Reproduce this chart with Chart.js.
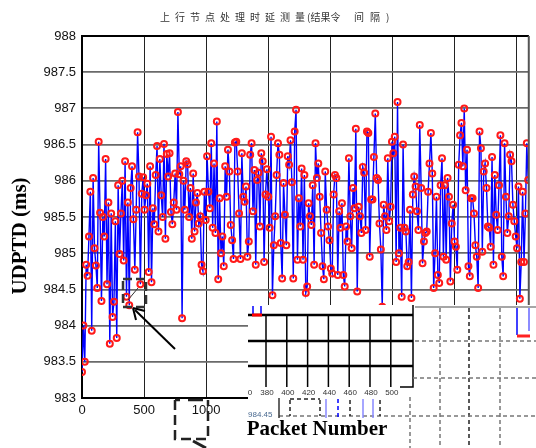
<!DOCTYPE html>
<html>
<head>
<meta charset="utf-8">
<script src="https://cdn.jsdelivr.net/npm/chart.js@4.4.0/dist/chart.umd.min.js"></script>
<style>
  html, body { margin: 0; padding: 0; background: #fff; }
  #wrap { width: 536px; height: 448px; }
</style>
</head>
<body>
<div id="wrap"><canvas id="udptdChart" width="536" height="448"></canvas></div>
<script>
// UDPTD samples, in packet order
const udptdA = [
  983.36, 984.0, 983.5, 984.84, 984.69, 985.23, 985.85, 983.93,
  986.04, 985.07, 984.83, 984.52, 986.54,
  985.56, 984.34, 985.5, 985.23, 986.3, 984.57, 985.7,
  983.75, 985.55, 984.12, 984.33, 985.44, 983.83, 985.94,
  984.99, 985.55, 986.0, 984.9, 986.27, 984.4, 985.7,
  984.28, 985.9, 986.2, 985.47, 984.77, 985.6, 986.67,
  986.06, 984.57, 985.82, 986.05, 985.6, 985.8, 985.96,
  984.74, 986.2, 984.6, 985.62, 985.4, 986.08, 986.48,
  985.3, 986.3, 985.8, 985.5, 986.51, 985.2, 986.37,
  986.06, 986.38, 985.57, 985.4, 985.7, 986.1, 985.6,
  986.95, 986.09, 986.2, 984.1, 986.0, 985.6, 986.27,
  986.23, 985.5, 985.9, 985.2, 986.1, 985.3, 985.7
];
const udptdB = [
  985.83, 985.41, 985.51, 984.84, 984.75, 985.85, 985.46,
  986.34, 985.85, 985.62, 986.52, 985.35, 986.24, 985.28,
  986.82, 984.64, 985.76, 985.0, 985.23, 984.82, 986.2,
  985.78, 986.43, 986.13, 985.39, 985.18, 984.92, 986.53,
  986.54, 986.13, 985.55, 984.92, 986.38, 985.78, 985.71,
  985.92, 984.95, 985.16, 986.36, 986.52, 985.58, 986.15,
  984.84, 986.01, 986.11, 985.37, 986.38, 986.27, 984.88,
  985.81, 986.16, 985.78, 985.35, 986.61, 984.42, 985.11,
  985.51, 986.08, 986.52, 986.36, 985.14, 984.65, 985.97,
  985.53, 985.11, 986.34, 986.22, 986.56, 985.98, 984.65,
  986.68, 986.98, 984.91, 985.76, 985.37, 986.17, 984.91
];
const udptdC = [
  986.08, 984.45, 984.54, 985.69, 985.51, 985.39, 985.94,
  984.84, 986.52, 986.04, 986.24, 985.78, 985.28, 984.82,
  984.64, 986.13, 985.6, 985.37, 985.18, 984.79, 984.72,
  985.81, 986.08, 986.04, 984.7, 985.58, 985.35, 985.69,
  984.7, 984.54, 985.37, 985.16, 986.31, 985.51, 985.07,
  985.9, 985.62, 986.72, 984.47, 985.64, 985.51, 985.28,
  986.19, 986.11, 985.32, 986.68, 986.66, 984.95, 985.74,
  985.74, 986.33, 986.93, 986.04, 986.01, 985.41, 985.05,
  984.26, 985.67, 985.51, 985.32, 986.31, 985.44, 985.64,
  986.54, 986.38, 986.61, 984.88, 987.09, 985.0, 985.35,
  984.4, 986.5, 985.35, 985.3, 984.82, 984.88, 985.6
];
const udptdD = [
  984.38, 985.81, 986.06, 985.92, 985.58, 985.32, 986.77,
  985.9, 984.86, 985.16, 985.28, 985.3, 985.85, 986.24,
  986.66, 986.1, 984.52, 985.0, 985.78, 984.7, 984.59,
  985.94, 986.31, 984.95, 985.94, 984.91, 986.04, 985.78,
  984.61, 985.41, 985.67, 985.16, 985.09, 984.77, 986.22,
  986.63, 986.8, 986.2, 987.0, 985.87, 986.43, 984.82,
  984.68, 985.76, 985.76, 985.55, 985.11, 984.95, 984.52,
  986.68, 986.45, 985.02, 986.13, 986.24, 985.9, 985.37,
  985.35, 985.09, 986.33, 984.84, 986.08, 985.53, 985.32,
  985.94, 986.63, 984.95, 984.68, 986.52, 985.78, 985.28,
  985.51, 986.36, 986.27, 985.67, 985.44, 985.23, 985.07, 985.92,
  984.37, 984.88, 985.85, 984.88, 985.55, 986.52, 986.01
];
const packetStep = 11.2;  // packets between plotted samples

const xTicks = [0, 500, 1000, 1500, 2000, 2500, 3000, 3500];
const yTicks = [983, 983.5, 984, 984.5, 985, 985.5, 986, 986.5, 987, 987.5, 988];
const insetTicks = [380, 400, 420, 440, 460, 480, 500];

const titleLeft = '上行节点处理时延测量';
const titleMid = '(结果令';
const titleRight = '间隔)';

const udptd = udptdA.concat(udptdB, udptdC, udptdD);
const points = udptd.map((v, i) => ({ x: i * packetStep, y: v }));

// title, frame and the pasted-over zoom inset pieces
const overlayPlugin = {
  id: 'overlay',
  afterDraw(chart) {
    const ctx = chart.ctx;
    const a = chart.chartArea;
    ctx.save();

    // top and right frame
    ctx.strokeStyle = '#000';
    ctx.lineWidth = 2;
    ctx.beginPath(); ctx.moveTo(a.left, a.top); ctx.lineTo(a.right, a.top); ctx.stroke();
    ctx.strokeStyle = '#555';
    ctx.beginPath(); ctx.moveTo(a.right, a.top); ctx.lineTo(a.right, a.bottom); ctx.stroke();

    // title
    ctx.fillStyle = '#333';
    ctx.font = '10px "Noto Sans CJK SC"';
    ctx.textBaseline = 'middle';
    ctx.textAlign = 'left';
    [...titleLeft].forEach((c, i) => ctx.fillText(c, 160 + i * 15, 17));
    ctx.fillText(titleMid, 307, 17);
    [...titleRight].forEach((c, i) => ctx.fillText(c, 354 + i * 16, 17));

    // y title
    ctx.save();
    ctx.translate(21, 236);
    ctx.rotate(-Math.PI / 2);
    ctx.fillStyle = '#000';
    ctx.font = 'bold 21px "Liberation Serif"';
    ctx.textAlign = 'center';
    ctx.fillText('UDPTD (ms)', 0, 0);
    ctx.restore();

    // small dashed box and arrow
    ctx.strokeStyle = '#333';
    ctx.lineWidth = 2.5;
    ctx.setLineDash([9, 4]);
    ctx.strokeRect(123, 279, 23, 28);
    ctx.setLineDash([]);
    ctx.lineWidth = 1;
    ctx.beginPath(); ctx.moveTo(128, 300); ctx.lineTo(138, 288); ctx.stroke();
    ctx.strokeStyle = '#000';
    ctx.lineWidth = 2;
    ctx.beginPath(); ctx.moveTo(175, 349); ctx.lineTo(135, 310); ctx.stroke();
    ctx.beginPath();
    ctx.moveTo(133, 308); ctx.lineTo(136, 320); ctx.moveTo(133, 308); ctx.lineTo(145, 311);
    ctx.stroke();

    // dashed bracket under the x axis
    ctx.strokeStyle = '#222';
    ctx.lineWidth = 2.5;
    ctx.setLineDash([10, 5]);
    ctx.beginPath();
    ctx.moveTo(175, 400); ctx.lineTo(175, 439); ctx.lineTo(208, 439); ctx.lineTo(208, 400);
    ctx.stroke();
    ctx.setLineDash([]);
    ctx.beginPath(); ctx.moveTo(175, 400); ctx.lineTo(180, 400); ctx.moveTo(188, 400); ctx.lineTo(203, 400); ctx.stroke();
    ctx.lineWidth = 3;
    ctx.beginPath(); ctx.moveTo(193, 441); ctx.lineTo(206, 448); ctx.stroke();

    // white block of the pasted inset
    ctx.fillStyle = '#fff';
    ctx.fillRect(248, 305, 288, 143);

    // inset 1: solid grid
    ctx.strokeStyle = '#000';
    ctx.lineWidth = 1.5;
    insetTicks.forEach((t, i) => {
      const x = 266 + i * 20.8;
      ctx.beginPath(); ctx.moveTo(x, 315); ctx.lineTo(x, 387); ctx.stroke();
    });
    ctx.lineWidth = 2.5;
    [315, 341, 366].forEach(y => {
      ctx.beginPath(); ctx.moveTo(248, y); ctx.lineTo(413, y); ctx.stroke();
    });
    ctx.lineWidth = 1.5;
    ctx.beginPath(); ctx.moveTo(413, 305); ctx.lineTo(413, 387); ctx.lineTo(400, 387); ctx.stroke();
    ctx.fillStyle = '#333';
    ctx.font = '8px "Liberation Sans"';
    ctx.textAlign = 'center';
    ctx.textBaseline = 'middle';
    insetTicks.forEach((t, i) => ctx.fillText(String(t), 267 + i * 20.8, 393));
    ctx.fillText('0', 250, 393);
    ctx.strokeStyle = '#00f';
    ctx.lineWidth = 1.5;
    ctx.beginPath(); ctx.moveTo(253, 306); ctx.lineTo(253, 315); ctx.moveTo(261, 306); ctx.lineTo(261, 315); ctx.stroke();
    ctx.strokeStyle = '#f00';
    ctx.lineWidth = 3;
    ctx.beginPath(); ctx.moveTo(252, 315); ctx.lineTo(262, 315); ctx.stroke();

    // inset 2: dashed grid
    ctx.strokeStyle = '#888';
    ctx.lineWidth = 1.5;
    ctx.beginPath(); ctx.moveTo(415, 307); ctx.lineTo(536, 307); ctx.stroke();
    ctx.setLineDash([4, 3]);
    [[440, '#777'], [469, '#222'], [500, '#777']].forEach(([x, c]) => {
      ctx.strokeStyle = c;
      ctx.beginPath(); ctx.moveTo(x, 308); ctx.lineTo(x, 448); ctx.stroke();
    });
    ctx.strokeStyle = '#777';
    ctx.beginPath(); ctx.moveTo(410, 397); ctx.lineTo(410, 448); ctx.stroke();
    [[341, 415], [378, 413], [416, 279]].forEach(([y, x0]) => {
      ctx.beginPath(); ctx.moveTo(x0, y); ctx.lineTo(536, y); ctx.stroke();
    });
    ctx.strokeStyle = '#222';
    [290, 320, 350, 380].forEach(x => {
      ctx.beginPath(); ctx.moveTo(x, 400); ctx.lineTo(x, 416); ctx.stroke();
    });
    ctx.beginPath(); ctx.moveTo(290, 399); ctx.lineTo(320, 399); ctx.stroke();
    ctx.setLineDash([]);
    ctx.strokeStyle = '#00f';
    ctx.lineWidth = 1.5;
    ctx.beginPath(); ctx.moveTo(517, 308); ctx.lineTo(517, 335); ctx.stroke();
    ctx.strokeStyle = '#66f';
    ctx.beginPath(); ctx.moveTo(529, 308); ctx.lineTo(529, 331); ctx.stroke();
    ctx.strokeStyle = '#f22';
    ctx.lineWidth = 3;
    ctx.beginPath(); ctx.moveTo(517, 336); ctx.lineTo(530, 336); ctx.stroke();

    // lower strip under inset 1
    ctx.strokeStyle = '#333';
    ctx.lineWidth = 1.5;
    ctx.beginPath(); ctx.moveTo(279, 398); ctx.lineTo(279, 418); ctx.stroke();
    ctx.strokeStyle = '#8888ff';
    [326, 363, 373].forEach(x => {
      ctx.beginPath(); ctx.moveTo(x, 399); ctx.lineTo(x, 418); ctx.stroke();
    });
    ctx.strokeStyle = '#00f';
    ctx.setLineDash([4, 3]);
    ctx.beginPath(); ctx.moveTo(338, 399); ctx.lineTo(338, 418); ctx.stroke();
    ctx.setLineDash([]);
    ctx.fillStyle = '#4a6a90';
    ctx.font = '8px "Liberation Sans"';
    ctx.textAlign = 'left';
    ctx.fillText('984.45', 248, 415);

    // x title
    ctx.fillStyle = '#000';
    ctx.font = 'bold 21px "Liberation Serif"';
    ctx.textAlign = 'center';
    ctx.textBaseline = 'middle';
    ctx.fillText('Packet Number', 317, 430);

    ctx.restore();
  }
};

new Chart(document.getElementById('udptdChart').getContext('2d'), {
  type: 'line',
  data: {
    datasets: [{
      data: points,
      borderColor: '#0000ff',
      borderWidth: 1.4,
      tension: 0,
      pointRadius: 3,
      pointBorderColor: '#ff1a1a',
      pointBorderWidth: 2,
      pointBackgroundColor: 'rgba(0,0,0,0)'
    }]
  },
  options: {
    responsive: false,
    animation: false,
    layout: { padding: { top: 36, right: 1, left: 0, bottom: 0 } },
    plugins: { legend: { display: false }, tooltip: { enabled: false } },
    scales: {
      x: {
        type: 'linear',
        min: 0,
        max: 3600,
        afterBuildTicks: scale => { scale.ticks = xTicks.map(v => ({ value: v })); },
        afterFit: scale => { scale.height = 50; },
        grid: { color: '#222', lineWidth: 1, drawTicks: false },
        border: { color: '#000', width: 2 },
        ticks: {
          padding: 5,
          color: '#111',
          font: { family: 'Liberation Sans', size: 13 },
          maxRotation: 0,
          callback: v => String(v)
        }
      },
      y: {
        min: 983,
        max: 988,
        afterBuildTicks: scale => { scale.ticks = yTicks.map(v => ({ value: v })); },
        afterFit: scale => { scale.width = 82; },
        grid: { color: '#6a6a6a', lineWidth: 1.8, drawTicks: false },
        border: { color: '#000', width: 2 },
        ticks: {
          padding: 6,
          color: '#111',
          font: { family: 'Liberation Sans', size: 13 },
          callback: v => String(v)
        }
      }
    }
  },
  plugins: [overlayPlugin]
});
</script>
</body>
</html>
